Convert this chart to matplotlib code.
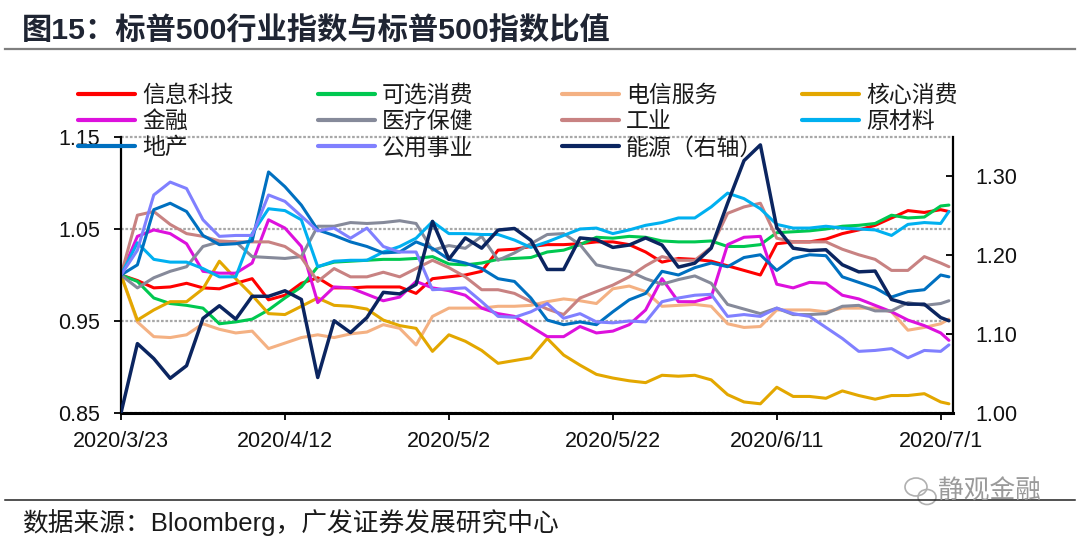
import numpy as np
import pandas as pd
import matplotlib
matplotlib.use("Agg")
import matplotlib.pyplot as plt
import matplotlib.dates as mdates
from matplotlib.lines import Line2D
from matplotlib.patches import Ellipse
from matplotlib.ticker import FuncFormatter, FixedLocator

# ---------------- data (every 2 days from 2020-03-23, last point 2020-07-02) ----------------
dates = pd.date_range("2020-03-23", "2020-07-01", freq="2D").append(pd.DatetimeIndex(["2020-07-02"]))

it = [1.000, 0.994, 0.986, 0.987, 0.991, 0.986, 0.985, 0.991, 0.996, 0.973,
      0.978, 0.991, 0.997, 0.986, 0.986, 0.987, 0.987, 0.987, 0.980, 0.996,
      0.998, 1.000, 1.004, 1.027, 1.028, 1.031, 1.033, 1.033, 1.034, 1.036,
      1.036, 1.033, 1.025, 1.014, 1.018, 1.017, 1.015, 1.010, 1.005, 1.000,
      1.034, 1.036, 1.036, 1.039, 1.045, 1.049, 1.054, 1.062, 1.070, 1.068,
      1.071, 1.069]
cd = [1.000, 0.993, 0.975, 0.969, 0.967, 0.964, 0.947, 0.949, 0.952, 0.962,
      0.975, 0.987, 1.009, 1.014, 1.015, 1.016, 1.017, 1.017, 1.018, 1.020,
      1.012, 1.011, 1.013, 1.017, 1.018, 1.019, 1.025, 1.027, 1.033, 1.041,
      1.040, 1.042, 1.041, 1.037, 1.036, 1.036, 1.037, 1.031, 1.031, 1.033,
      1.046, 1.047, 1.048, 1.050, 1.053, 1.054, 1.056, 1.065, 1.062, 1.063,
      1.075, 1.076]
tel = [1.000, 0.949, 0.933, 0.932, 0.935, 0.947, 0.941, 0.937, 0.939, 0.920,
       0.926, 0.932, 0.935, 0.932, 0.936, 0.938, 0.946, 0.942, 0.924, 0.955,
       0.964, 0.964, 0.964, 0.966, 0.966, 0.967, 0.971, 0.974, 0.972, 0.969,
       0.985, 0.988, 0.982, 0.966, 0.967, 0.968, 0.966, 0.947, 0.943, 0.944,
       0.962, 0.962, 0.962, 0.960, 0.964, 0.964, 0.964, 0.960, 0.940, 0.943,
       0.947, 0.952]
cs = [1.000, 0.951, 0.962, 0.971, 0.971, 0.985, 1.015, 0.996, 0.978, 0.958,
      0.957, 0.966, 0.975, 0.967, 0.966, 0.963, 0.951, 0.945, 0.942, 0.917,
      0.935, 0.928, 0.918, 0.904, 0.907, 0.910, 0.931, 0.913, 0.902, 0.892,
      0.888, 0.885, 0.883, 0.891, 0.890, 0.891, 0.886, 0.870, 0.862, 0.860,
      0.878, 0.868, 0.868, 0.866, 0.874, 0.869, 0.865, 0.869, 0.869, 0.871,
      0.862, 0.860]
fin = [1.000, 1.042, 1.049, 1.045, 1.034, 1.004, 1.002, 1.002, 1.013, 1.060,
       1.051, 1.031, 0.970, 0.987, 0.986, 0.979, 0.972, 0.976, 0.993, 0.986,
       0.983, 0.978, 0.964, 0.958, 0.955, 0.944, 0.933, 0.933, 0.944, 0.937,
       0.939, 0.946, 0.962, 0.996, 0.971, 0.971, 0.976, 1.033, 1.041, 1.042,
       0.990, 0.986, 0.992, 0.991, 0.978, 0.974, 0.967, 0.960, 0.951, 0.945,
       0.937, 0.929]
hc = [1.000, 0.986, 0.997, 1.004, 1.009, 1.031, 1.036, 1.036, 1.020, 1.019,
      1.018, 1.020, 1.053, 1.053, 1.057, 1.056, 1.057, 1.059, 1.056, 1.027,
      1.032, 1.029, 1.042, 1.016, 1.024, 1.034, 1.044, 1.045, 1.033, 1.011,
      1.007, 1.004, 0.996, 0.990, 0.995, 0.999, 0.991, 0.968, 0.963, 0.958,
      0.964, 0.957, 0.957, 0.958, 0.966, 0.967, 0.961, 0.961, 0.970, 0.967,
      0.969, 0.972]
ind = [1.000, 1.065, 1.069, 1.055, 1.045, 1.042, 1.037, 1.036, 1.036, 1.036,
       1.031, 1.019, 0.993, 1.007, 0.998, 0.998, 1.003, 0.998, 1.007, 1.016,
       1.008, 0.998, 0.984, 0.984, 0.980, 0.971, 0.963, 0.957, 0.975, 0.982,
       0.989, 0.998, 1.010, 1.020, 1.016, 1.016, 1.030, 1.067, 1.074, 1.078,
       1.040, 1.036, 1.036, 1.036, 1.028, 1.022, 1.017, 1.005, 1.005, 1.020,
       1.013, 1.009]
mat = [1.000, 1.035, 1.017, 1.014, 1.014, 1.007, 0.998, 0.998, 1.045, 1.072,
       1.070, 1.060, 1.009, 1.015, 1.016, 1.016, 1.025, 1.031, 1.040, 1.058,
       1.045, 1.045, 1.044, 1.044, 1.038, 1.030, 1.036, 1.043, 1.050, 1.051,
       1.045, 1.049, 1.054, 1.057, 1.062, 1.062, 1.074, 1.089, 1.083, 1.072,
       1.055, 1.051, 1.051, 1.053, 1.051, 1.050, 1.049, 1.043, 1.055, 1.057,
       1.056, 1.069]
re_ = [1.000, 1.011, 1.071, 1.078, 1.069, 1.043, 1.033, 1.034, 1.037, 1.112,
       1.096, 1.076, 1.049, 1.043, 1.036, 1.031, 1.024, 1.025, 1.036, 1.029,
       1.017, 1.013, 1.007, 0.996, 0.993, 0.975, 0.951, 0.946, 0.949, 0.946,
       0.960, 0.973, 0.980, 1.004, 1.000, 1.008, 1.013, 1.009, 1.019, 1.022,
       1.005, 1.018, 1.022, 1.021, 0.998, 0.992, 0.986, 0.976, 0.982, 0.984,
       1.000, 0.998]
util = [1.000, 1.027, 1.087, 1.101, 1.094, 1.060, 1.042, 1.043, 1.043, 1.087,
        1.080, 1.064, 1.048, 1.051, 1.040, 1.051, 1.031, 1.025, 1.025, 0.984,
        0.985, 0.986, 0.971, 0.955, 0.954, 0.960, 0.969, 0.953, 0.958, 0.949,
        0.948, 0.950, 0.949, 0.971, 0.975, 0.978, 0.979, 0.955, 0.957, 0.955,
        0.964, 0.958, 0.955, 0.943, 0.931, 0.917, 0.918, 0.920, 0.910, 0.918,
        0.917, 0.924]
energy = [1.000, 1.088, 1.069, 1.044, 1.060, 1.120, 1.136, 1.119, 1.148, 1.148,
          1.155, 1.144, 1.045, 1.117, 1.102, 1.121, 1.153, 1.151, 1.163, 1.243,
          1.195, 1.222, 1.209, 1.232, 1.234, 1.219, 1.182, 1.182, 1.222, 1.220,
          1.210, 1.213, 1.222, 1.213, 1.185, 1.190, 1.209, 1.266, 1.320, 1.340,
          1.235, 1.209, 1.206, 1.207, 1.188, 1.179, 1.180, 1.144, 1.138, 1.138,
          1.121, 1.117]

labels = ["信息科技", "可选消费", "电信服务", "核心消费", "金融", "医疗保健",
          "工业", "原材料", "地产", "公用事业", "能源（右轴）"]
left_series = [it, cd, tel, cs, fin, hc, ind, mat, re_, util]
colors = ["#FF0000", "#00C850", "#F4B183", "#E3A700", "#DD11DD", "#868A9A",
          "#C88282", "#00B0F0", "#0070C0", "#8080FF", "#0B2560"]

left_ticks = [0.85, 0.95, 1.05, 1.15]
right_ticks = [1.00, 1.10, 1.20, 1.30]
x_ticks = pd.date_range("2020-03-23", periods=6, freq="20D")

# ---------------- figure ----------------
W, H = 1080, 542
fig = plt.figure(figsize=(W / 100, H / 100), dpi=100)
fig.patch.set_facecolor("white")

def fx(px):
    return px / W

def fy(py):
    return 1 - py / H

ax = fig.add_axes([fx(121), fy(413), fx(953) - fx(121), fy(137) - fy(413)])
ax2 = ax.twinx()

lines = []
for s, c in zip(left_series, colors[:-1]):
    ln, = ax.plot(dates, s, color=c, lw=2.2, solid_joinstyle="round", solid_capstyle="round")
    lines.append(ln)
ln, = ax2.plot(dates, energy, color=colors[-1], lw=2.5, solid_joinstyle="round", solid_capstyle="round")
lines.append(ln)

start = pd.Timestamp("2020-03-23")
ax.set_xlim(start, start + pd.Timedelta(days=101.5))
ax.set_ylim(0.85, 1.15)
ax2.set_ylim(1.00, 1.35)

ax.yaxis.set_major_locator(FixedLocator(left_ticks))
ax.yaxis.set_major_formatter(FuncFormatter(lambda v, p: f"{v:.2f}"))
ax2.yaxis.set_major_locator(FixedLocator(right_ticks))
ax2.yaxis.set_major_formatter(FuncFormatter(lambda v, p: f"{v:.2f}"))
ax.set_xticks(x_ticks)
ax.xaxis.set_major_formatter(FuncFormatter(
    lambda v, p: (lambda d: f"{d.year}/{d.month}/{d.day}")(mdates.num2date(v))))

for lab in ax.get_xticklabels() + ax.get_yticklabels() + ax2.get_yticklabels():
    lab.set_fontfamily("Liberation Sans")
    lab.set_fontsize(15.5)
    lab.set_color("#111111")

ax.tick_params(axis="y", direction="out", length=5, width=1.3, pad=10)
ax.tick_params(axis="x", direction="out", length=5, width=1.3, pad=8)
ax2.tick_params(axis="y", direction="in", length=5, width=1.3, pad=16)

ax.grid(axis="y", color="#A8A8A8", linestyle=(0, (1.2, 0.8)), linewidth=1.6)
ax.set_axisbelow(True)
for gl in ax.get_ygridlines():
    gl.set_clip_on(False)

for sp in ["top", "right"]:
    ax.spines[sp].set_visible(False)
for sp in ["top", "left", "bottom"]:
    ax2.spines[sp].set_visible(False)
ax.spines["left"].set_linewidth(1.6)
ax.spines["bottom"].set_linewidth(2.2)
ax2.spines["right"].set_linewidth(1.6)
for a in (ax, ax2):
    a.patch.set_visible(False)

# ---------------- legend (4 columns) ----------------
cjk = ["Noto Sans CJK SC", "DejaVu Sans"]
col_idx = [[0, 4, 8], [1, 5, 9], [2, 6, 10], [3, 7]]
col_x = [78, 318, 562, 802]
for idxs, xpx in zip(col_idx, col_x):
    leg = fig.legend([lines[i] for i in idxs], [labels[i] for i in idxs],
                     loc="upper left", bbox_to_anchor=(fx(xpx), fy(84)),
                     frameon=False, borderpad=0, borderaxespad=0,
                     handlelength=2.5, handletextpad=0.3, labelspacing=0.14,
                     prop=dict(family=cjk, size=16.5))
    for hl in leg.get_lines():
        hl.set_linewidth(3.0)
    for t in leg.get_texts():
        t.set_color("#1a1a1a")

# ---------------- title, rules, source ----------------
fig.text(fx(22), fy(30), "图15：标普500行业指数与标普500指数比值",
         fontfamily=["Liberation Sans", "Noto Sans CJK SC"], fontweight="bold",
         fontsize=21.8, color="#1F2533", va="center", ha="left")
fig.add_artist(Line2D([fx(5), fx(1075)], [fy(49), fy(49)], color="#7F7F7F", lw=1.6))
fig.add_artist(Line2D([fx(5), fx(1075)], [fy(500), fy(500)], color="#222222", lw=1.1))
fig.text(fx(22), fy(523), "数据来源：Bloomberg，广发证券发展研究中心",
         fontfamily=["Liberation Sans", "Noto Sans CJK SC"], fontsize=18.5,
         color="#1a1a1a", va="center", ha="left")

# watermark
fig.add_artist(Ellipse((fx(916), fy(487)), fx(22), 18 / H, fill=False,
                       edgecolor="#B0B0B0", lw=1.2))
fig.add_artist(Ellipse((fx(927), fy(497)), fx(18), 15 / H, fill=False,
                       edgecolor="#B0B0B0", lw=1.2))
fig.text(fx(938), fy(492), "静观金融", fontfamily=cjk, fontsize=18.5,
         color="#9A9A9A", va="center", ha="left")

fig.savefig("out.png", dpi=100)
